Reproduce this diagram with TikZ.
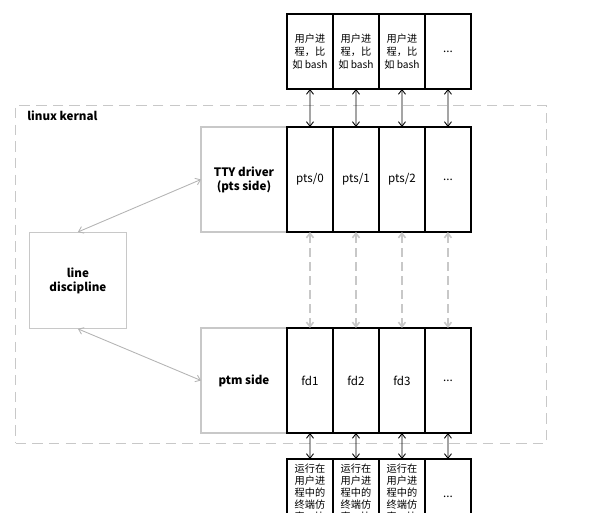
\documentclass[tikz,border=0pt]{standalone}
\usepackage{fontspec}
\setmainfont{Noto Sans CJK SC}
\usetikzlibrary{arrows.meta,positioning}

\definecolor{boxgray}{HTML}{C8C8C8}
\definecolor{arrowgray}{HTML}{B4B4B4}

\tikzset{
  cell/.style={draw, line width=1.1pt, minimum width=0.92cm, outer sep=0pt, inner sep=1pt},
  ptscell/.style={cell, minimum height=2.1cm, font=\fontsize{6.6}{8}\selectfont},
  proccell/.style={cell, minimum height=1.5cm, align=center, font=\fontsize{5.8}{7.4}\selectfont},
  emucell/.style={cell, minimum height=2.2cm},
  emutext/.style={align=center, inner sep=0pt, font=\fontsize{5.8}{6.9}\selectfont},
  sidebox/.style={draw=boxgray, line width=1pt, minimum width=1.72cm, minimum height=2.1cm, outer sep=0pt, align=center, font=\bfseries\fontsize{6.6}{8}\selectfont},
  ldiscbox/.style={draw=boxgray, line width=0.5pt, minimum width=1.94cm, minimum height=1.92cm, align=center, font=\bfseries\fontsize{6.6}{8}\selectfont},
  kernelbox/.style={draw=boxgray, line width=0.6pt, dash pattern=on 6pt off 3.5pt, minimum width=10.62cm, minimum height=6.76cm}
}

\begin{document}
\begin{tikzpicture}[x=0.02cm, y=-0.02cm, >={Straight Barb[length=2.6pt, width=4pt]}]
\useasboundingbox (0,0) rectangle (613,513);
\clip (0,0) rectangle (613,513);

% kernel frame
\node[kernelbox, anchor=north west] (kernel) at (15,105) {};
\node[anchor=north west, inner sep=0pt, font=\bfseries\fontsize{6.6}{8}\selectfont] (kname) at (27,111) {linux kernal};

% user processes
\node[proccell, anchor=north west] (proc0) at (287,14) {用户进\\程，比\\如 bash};
\node[proccell, right=0pt of proc0] (proc1) {用户进\\程，比\\如 bash};
\node[proccell, right=0pt of proc1] (proc2) {用户进\\程，比\\如 bash};
\node[proccell, right=0pt of proc2, font=\fontsize{6.6}{8}\selectfont] (proc3) {...};

% slave side
\node[sidebox, anchor=north west] (ttyd) at (201,127) {TTY driver\\(pts side)};
\node[ptscell, right=0pt of ttyd] (pts0) {pts/0};
\node[ptscell, right=0pt of pts0] (pts1) {pts/1};
\node[ptscell, right=0pt of pts1] (pts2) {pts/2};
\node[ptscell, right=0pt of pts2] (pts3) {...};

% master side
\node[sidebox, anchor=north west] (ptm) at (201,328) {ptm side};
\node[ptscell, right=0pt of ptm] (fd0) {fd1};
\node[ptscell, right=0pt of fd0] (fd1) {fd2};
\node[ptscell, right=0pt of fd1] (fd2) {fd3};
\node[ptscell, right=0pt of fd2] (fd3) {...};

% terminal emulators
\node[emucell, anchor=north west] (emu0) at (287,459) {};
\node[emucell, right=0pt of emu0] (emu1) {};
\node[emucell, right=0pt of emu1] (emu2) {};
\node[emucell, right=0pt of emu2] (emu3) {};
\foreach \i in {0,1,2} {
  \node[emutext, below=2.5pt of emu\i.north] (emut\i) {运行在\\用户进\\程中的\\终端仿\\真，比};
}
\node[font=\fontsize{6.6}{8}\selectfont] (emut3) at (448,497) {...};

\node[ldiscbox, anchor=north west] (ldisc) at (29,232) {line\\discipline};

\draw[<->, arrowgray, line width=0.5pt] (ldisc.north) -- (ttyd.west);
\draw[<->, arrowgray, line width=0.5pt] (ldisc.south) -- (ptm.west);

\foreach \i in {0,...,3} {
  \draw[<->, line width=0.5pt] (proc\i) -- (pts\i);
  \draw[<->, boxgray, line width=0.9pt, dash pattern=on 5pt off 3pt] (pts\i) -- (fd\i);
  \draw[<->, line width=0.5pt] (fd\i) -- (emu\i);
}
\end{tikzpicture}
\end{document}
